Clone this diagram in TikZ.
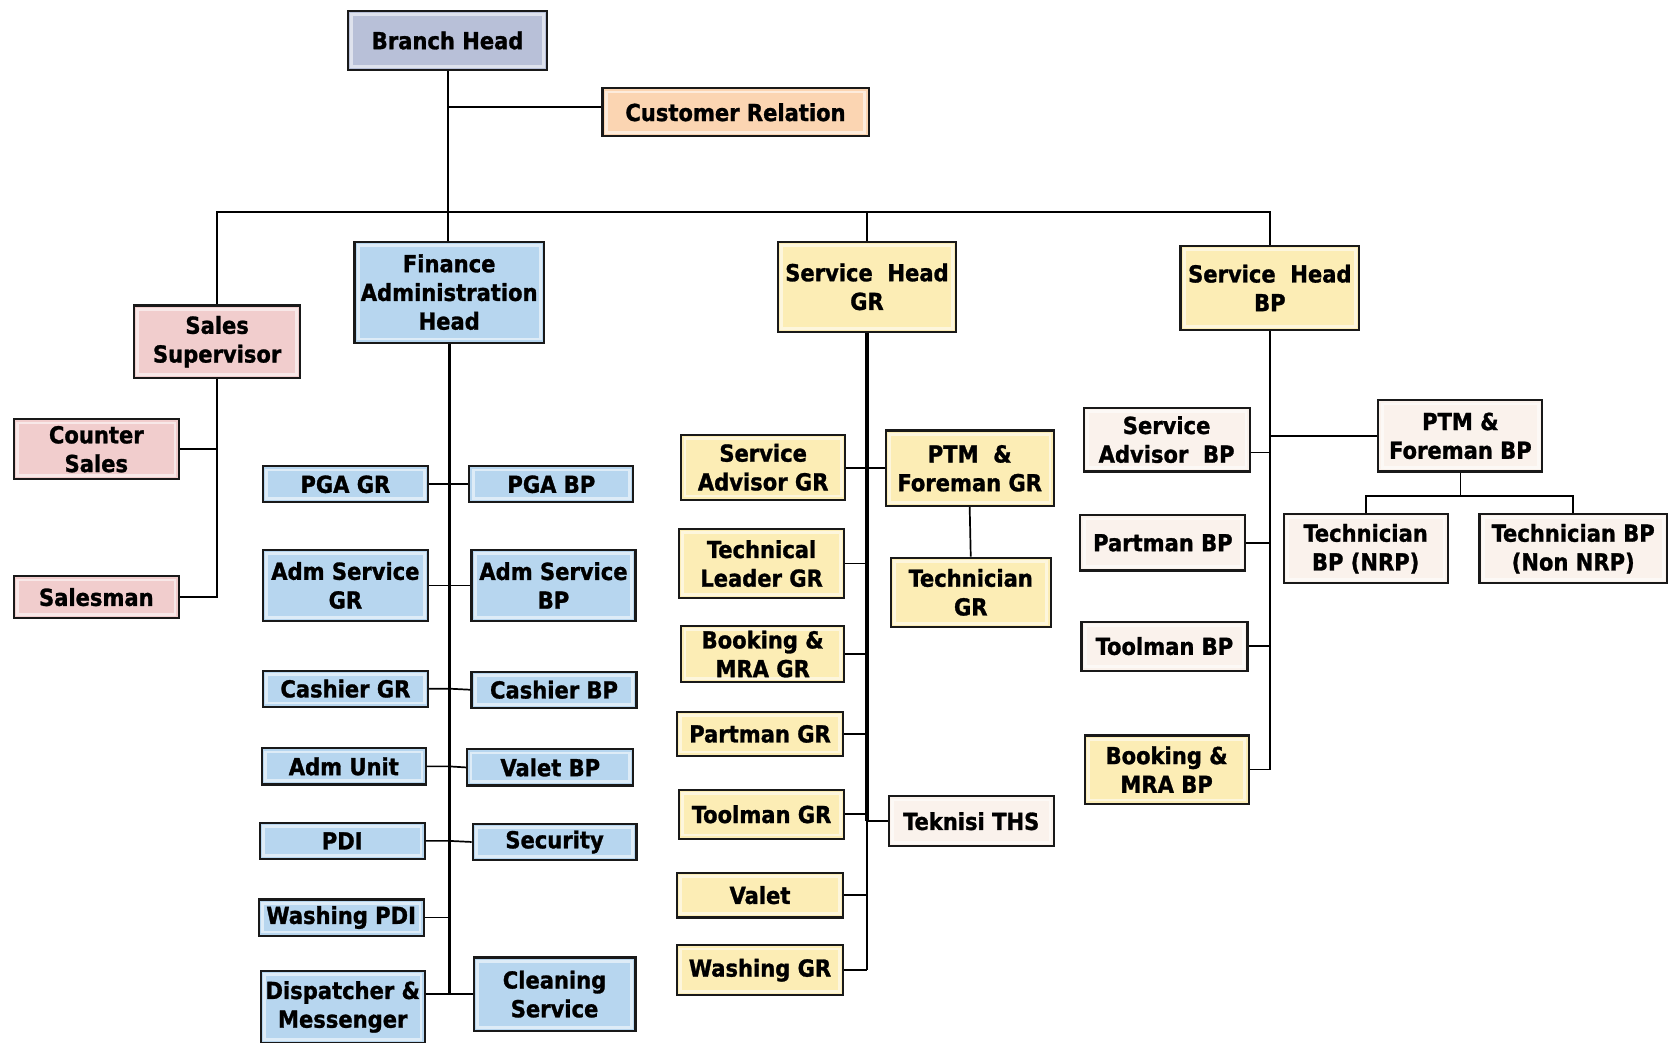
\documentclass[tikz,border=0pt]{standalone}
\usepackage{fontspec}
\newfontfamily\orgfont{DejaVu Sans Condensed}[BoldFont={DejaVu Sans Condensed Bold},BoldFeatures={FakeBold=1.2}]
\definecolor{bhgray}{RGB}{184,192,216}
\definecolor{crpeach}{RGB}{251,213,178}
\definecolor{salespink}{RGB}{241,205,205}
\definecolor{finblue}{RGB}{183,214,239}
\definecolor{gryellow}{RGB}{252,237,181}
\definecolor{bpcream}{RGB}{250,242,236}

\begin{document}
\begin{tikzpicture}[x=1pt,y=-1pt,
		unit/.style={draw=black!90,line width=2pt,inner sep=0pt,align=center,
			font=\orgfont\bfseries\fontsize{22}{27}\selectfont,
			path picture={\draw[white,opacity=.55,line width=2.6pt]
				([shift={(3.5pt,-3.5pt)}]path picture bounding box.north west) rectangle
				([shift={(-3.5pt,3.5pt)}]path picture bounding box.south east);}},
		sales/.style={unit,fill=salespink},
		fin/.style={unit,fill=finblue},
		gr/.style={unit,fill=gryellow},
		bp/.style={unit,fill=bpcream},
		link/.style={line width=1.6pt},
		trunk/.style={line width=2pt},
		spine/.style={line width=3pt}]
		\useasboundingbox (0,0) rectangle (1568,979);
		
		% top level
		\node[unit,fill=bhgray,minimum width=187pt,minimum height=56pt] (bh) at (420.5,38) {Branch Head};
		\node[unit,fill=crpeach,minimum width=250pt,minimum height=45pt] (cr) at (691,105.5) {Customer Relation};
		\node[sales,minimum width=156pt,minimum height=68pt] (ss) at (204,321) {Sales\\Supervisor};
		\node[fin,minimum width=178pt,minimum height=95pt] (fin) at (422,274.5) {Finance\\Administration\\Head};
		\node[gr,minimum width=167pt,minimum height=85pt] (shgr) at (814.5,269.5) {Service~~Head\\GR};
		\node[gr,minimum width=168pt,minimum height=79pt] (shbp) at (1193,270.5) {Service~~Head\\BP};
		
		% sales
		\node[sales,minimum width=155pt,minimum height=56pt] (cs) at (90.5,422) {Counter\\Sales};
		\node[sales,minimum width=155pt,minimum height=39pt] (sm) at (90.5,561) {Salesman};
		
		% finance administration
		\node[fin,minimum width=155pt,minimum height=34pt] (pgagr) at (324.5,455) {PGA GR};
		\node[fin,minimum width=154pt,minimum height=34pt] (pgabp) at (518,455) {PGA BP};
		\node[fin,minimum width=155pt,minimum height=67pt] (asgr) at (324.5,550) {Adm Service\\GR};
		\node[fin,minimum width=154pt,minimum height=67pt] (asbp) at (520,550) {Adm Service\\BP};
		\node[fin,minimum width=155pt,minimum height=34pt] (cagr) at (324.5,647) {Cashier GR};
		\node[fin,minimum width=155pt,minimum height=34pt] (cabp) at (520.5,648) {Cashier BP};
		\node[fin,minimum width=154pt,minimum height=34pt] (admu) at (323,720) {Adm Unit};
		\node[fin,minimum width=156pt,minimum height=34pt] (valbp) at (517,721) {Valet BP};
		\node[fin,minimum width=155pt,minimum height=34pt] (pdi) at (321.5,790) {PDI};
		\node[fin,minimum width=154pt,minimum height=34pt] (sec) at (521,791) {Security};
		\node[fin,minimum width=155pt,minimum height=34pt] (wpdi) at (320.5,862) {Washing PDI};
		\node[fin,minimum width=154pt,minimum height=68pt] (disp) at (322,946) {Dispatcher \&\\Messenger};
		\node[fin,minimum width=152pt,minimum height=69pt] (clean) at (521,934) {Cleaning\\Service};
		
		% service GR
		\node[gr,minimum width=154pt,minimum height=61pt] (sagr) at (717,439) {Service\\Advisor GR};
		\node[gr,minimum width=158pt,minimum height=71pt] (ptmgr) at (911,440) {PTM~~\&\\Foreman GR};
		\node[gr,minimum width=150pt,minimum height=65pt] (tecgr) at (912,556.5) {Technician\\GR};
		\node[gr,minimum width=155pt,minimum height=65pt] (tlgr) at (715.5,529.5) {Technical\\Leader GR};
		\node[gr,minimum width=153pt,minimum height=53pt] (bmgr) at (716.5,614.5) {Booking \&\\MRA GR};
		\node[gr,minimum width=156pt,minimum height=41pt] (pmgr) at (714,689.5) {Partman GR};
		\node[gr,minimum width=155pt,minimum height=46pt] (tmgr) at (715.5,765) {Toolman GR};
		\node[bp,minimum width=155pt,minimum height=47pt] (ths) at (912.5,771.5) {Teknisi THS};
		\node[gr,minimum width=156pt,minimum height=42pt] (valgr) at (714,841) {Valet};
		\node[gr,minimum width=156pt,minimum height=47pt] (wgr) at (714,911.5) {Washing GR};
		
		% service BP
		\node[bp,minimum width=156pt,minimum height=60pt] (sabp) at (1096,413) {Service\\Advisor~~BP};
		\node[bp,minimum width=154pt,minimum height=67pt] (ptmbp) at (1372,409.5) {PTM \&\\Foreman BP};
		\node[bp,minimum width=154pt,minimum height=65pt] (tnrp) at (1283,515.5) {Technician\\BP (NRP)};
		\node[bp,minimum width=176pt,minimum height=65pt] (tnon) at (1478,515.5) {Technician BP\\(Non NRP)};
		\node[bp,minimum width=155pt,minimum height=52pt] (pmbp) at (1092.5,510) {Partman BP};
		\node[bp,minimum width=156pt,minimum height=46pt] (tmbp) at (1094,607) {Toolman BP};
		\node[gr,minimum width=154pt,minimum height=64pt] (bmbp) at (1096,723) {Booking \&\\MRA BP};
		
		% top connectors
		\coordinate (busL) at (204,199);
		\coordinate (busR) at (1193,199);
		\coordinate (crin) at ([yshift=5pt]cr.west);
		\draw[trunk] (bh.south) -- (bh.south |- fin.north);
		\draw[link] (bh.south |- crin) -- (crin);
		\draw[trunk] (ss.north) -- (busL) -- (busR) -- (shbp.north);
		\draw[link] (shgr.north) -- (shgr.north |- busL);
		
		% sales connectors
		\draw[link] (ss.south) -- (ss.south |- sm.east) -- (sm.east);
		\draw[link] (cs.east) -- (cs.east -| ss.south);
		
		% finance connectors
		\draw[spine] (fin.south) -- (fin.south |- clean.west);
		\draw[link] (pgagr.east) -- (pgabp.west);
		\draw[link] (asgr.east) -- (asbp.west);
		\draw[link] (cagr.east) -- (cagr.east -| fin.south) -- (cabp.west);
		\draw[link] (admu.east) -- (admu.east -| fin.south) -- (valbp.west);
		\draw[link] (pdi.east) -- (pdi.east -| fin.south) -- (sec.west);
		\draw[link] (wpdi.east) -- (wpdi.east -| fin.south);
		\draw[link] (disp.east |- clean.west) -- (clean.west);
		
		% service GR connectors
		\draw[spine] (shgr.south) -- (shgr.south |- ths.west);
		\draw[link] (shgr.south |- ths.west) -- (shgr.south |- wgr.east);
		\draw[link] (sagr.east |- ptmgr.west) -- (ptmgr.west);
		\draw[link] (ptmgr.south) -- (tecgr.north);
		\foreach \n in {tlgr,bmgr,pmgr,tmgr,valgr,wgr}
		\draw[link] (\n.east) -- (\n.east -| shgr.south);
		\draw[link] (ths.west -| shgr.south) -- (ths.west);
		
		% service BP connectors
		\coordinate (tsplit) at (1372,466);
		\draw[trunk] (shbp.south) -- (shbp.south |- bmbp.east);
		\draw[link] ([yshift=-12pt]sabp.east) -- ([yshift=-12pt]sabp.east -| shbp.south);
		\draw[link] (ptmbp.west -| shbp.south) -- (ptmbp.west);
		\draw[link] (ptmbp.south) -- (tsplit);
		\draw[link] (tnrp.north) -- (tnrp.north |- tsplit) -- (tsplit -| tnon.north) -- (tnon.north);
		\foreach \n in {pmbp,tmbp,bmbp}
		\draw[link] (\n.east) -- (\n.east -| shbp.south);
	\end{tikzpicture}
\end{document}
